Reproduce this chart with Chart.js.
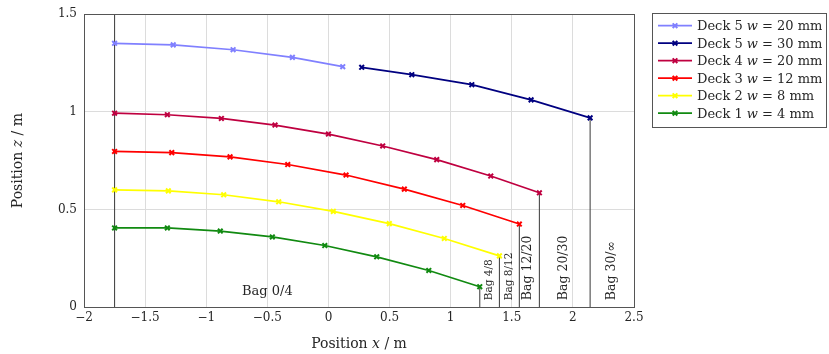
<!DOCTYPE html>
<html><head><meta charset="utf-8">
<script src="https://cdn.jsdelivr.net/npm/chart.js@4.4.0/dist/chart.umd.min.js"></script>
<style>html,body{margin:0;padding:0;background:#fff}#wrap{width:829px;height:354px;position:relative}</style>
</head><body><div id="wrap"><canvas id="c" width="829" height="354"></canvas></div>
<script>
// ---- data ----
const deck5w20X = [-1.75, -1.27, -0.78, -0.295, 0.117];
const deck5w20Z = [1.351, 1.343, 1.318, 1.279, 1.231];
const deck5w30X = [0.272, 0.682, 1.173, 1.658, 2.141];
const deck5w30Z = [1.228, 1.190, 1.139, 1.061, 0.969];
const deck4X = [-1.75, -1.318, -0.876, -0.437, 0.0, 0.444, 0.886, 1.328, 1.726];
const deck4Z = [0.993, 0.985, 0.966, 0.932, 0.886, 0.825, 0.755, 0.671, 0.585];
const deck3X = [-1.75, -1.282, -0.805, -0.333, 0.144, 0.621, 1.099, 1.562];
const deck3Z = [0.797, 0.791, 0.769, 0.730, 0.676, 0.604, 0.520, 0.425];
const deck2X = [-1.75, -1.310, -0.857, -0.407, 0.040, 0.498, 0.948, 1.399];
const deck2Z = [0.600, 0.595, 0.575, 0.539, 0.490, 0.427, 0.351, 0.262];
const deck1X = [-1.75, -1.318, -0.885, -0.459, -0.030, 0.395, 0.821, 1.238];
const deck1Z = [0.405, 0.405, 0.389, 0.359, 0.315, 0.257, 0.187, 0.104];

const seriesNames = ['Deck 5', 'Deck 5', 'Deck 4', 'Deck 3', 'Deck 2', 'Deck 1'];
const seriesWidths = ['20', '30', '20', '12', '8', '4'];

const bagLineX = [-1.75, 1.238, 1.399, 1.562, 1.726, 2.141];
const bagLineTop = [1.5, 0.104, 0.262, 0.425, 0.585, 0.969];

const bagLabels = ['Bag 0/4', 'Bag 4/8', 'Bag 8/12', 'Bag 12/20', 'Bag 20/30', 'Bag 30/\u221E'];
const bagLabelX = [-0.5, 1.314, 1.478, 1.633, 1.928, 2.318];
const bagLabelZ = [0.077, 0.035, 0.035, 0.035, 0.035, 0.035];

const xTicks = [-2, -1.5, -1, -0.5, 0, 0.5, 1, 1.5, 2, 2.5];
const yTicks = [0, 0.5, 1, 1.5];

// ---- styles ----
const colors = ['#8080ff', '#000080', '#bf0040', '#ff0000', '#ffff00', '#118a11'];
const labelSizes = [13, 10.5, 10.5, 12.5, 12.5, 12.5];
const labelRotated = [false, true, true, true, true, true];
const SERIF = '"DejaVu Serif", "Liberation Serif", serif';
const TXT = '#262626';

const series = [[deck5w20X, deck5w20Z], [deck5w30X, deck5w30Z], [deck4X, deck4Z], [deck3X, deck3Z], [deck2X, deck2Z], [deck1X, deck1Z]];

const datasets = series.map((s, i) => ({
  label: seriesNames[i] + ' w = ' + seriesWidths[i] + ' mm',
  data: s[0].map((x, k) => ({x: x, y: s[1][k]})),
  borderColor: colors[i], backgroundColor: colors[i],
  pointBorderColor: colors[i],
  borderWidth: 1.7, pointStyle: 'crossRot', pointRadius: 3.3, pointBorderWidth: 2,
  tension: 0, order: 1
}));
bagLineX.forEach((x, i) => {
  datasets.push({
    label: 'bagline' + i,
    data: [{x: x, y: 0}, {x: x, y: bagLineTop[i]}],
    borderColor: '#4a4a4a', borderWidth: 1.1, pointRadius: 0, order: 5
  });
});

function drawRich(ctx, parts, size, x, y, align) {
  const fonts = parts.map(p => (p.i ? 'italic ' : '') + size + 'px ' + SERIF);
  let total = 0;
  const widths = parts.map((p, k) => { ctx.font = fonts[k]; const w = ctx.measureText(p.t).width; total += w; return w; });
  let cx = align === 'center' ? x - total / 2 : x;
  ctx.textBaseline = 'middle'; ctx.textAlign = 'left';
  parts.forEach((p, k) => { ctx.font = fonts[k]; ctx.fillText(p.t, cx, y); cx += widths[k]; });
}

function drawCross(ctx, x, y, r, color) {
  ctx.save(); ctx.strokeStyle = color; ctx.lineWidth = 2;
  ctx.beginPath();
  ctx.moveTo(x - r * 0.7071, y - r * 0.7071); ctx.lineTo(x + r * 0.7071, y + r * 0.7071);
  ctx.moveTo(x + r * 0.7071, y - r * 0.7071); ctx.lineTo(x - r * 0.7071, y + r * 0.7071);
  ctx.stroke(); ctx.restore();
}

const decor = {
  id: 'decor',
  afterDatasetsDraw(chart) {
    const ctx = chart.ctx, xs = chart.scales.x, ys = chart.scales.y, a = chart.chartArea;
    ctx.save();
    // frame
    ctx.strokeStyle = '#555'; ctx.lineWidth = 1;
    ctx.strokeRect(Math.round(a.left) + 0.5, Math.round(a.top) + 0.5, Math.round(a.right - a.left), Math.round(a.bottom - a.top));
    // bag labels
    ctx.fillStyle = TXT;
    bagLabels.forEach((t, i) => {
      const px = xs.getPixelForValue(bagLabelX[i]);
      const py = ys.getPixelForValue(bagLabelZ[i]);
      ctx.font = labelSizes[i] + 'px ' + SERIF;
      if (labelRotated[i]) {
        ctx.save(); ctx.translate(px, py); ctx.rotate(-Math.PI / 2);
        ctx.textAlign = 'left'; ctx.textBaseline = 'middle';
        ctx.fillText(t, 0, 0); ctx.restore();
      } else {
        ctx.textAlign = 'center'; ctx.textBaseline = 'middle';
        ctx.fillText(t, px, py);
      }
    });
    // axis titles
    drawRich(ctx, [{t: 'Position '}, {t: 'x', i: true}, {t: ' / m'}], 14, (a.left + a.right) / 2, 344, 'center');
    ctx.save(); ctx.translate(18, (a.top + a.bottom) / 2); ctx.rotate(-Math.PI / 2);
    drawRich(ctx, [{t: 'Position '}, {t: 'z', i: true}, {t: ' / m'}], 14, 0, 0, 'center');
    ctx.restore();
    // legend
    const lx = 652, ly = 13, lw = 174, lh = 114;
    ctx.fillStyle = '#fff'; ctx.fillRect(lx, ly, lw, lh);
    ctx.strokeStyle = '#555'; ctx.lineWidth = 1; ctx.strokeRect(lx + 0.5, ly + 0.5, lw, lh);
    seriesNames.forEach((n, i) => {
      const y = ly + 12.7 + i * 17.5;
      ctx.strokeStyle = colors[i]; ctx.lineWidth = 1.7;
      ctx.beginPath(); ctx.moveTo(lx + 6, y); ctx.lineTo(lx + 40, y); ctx.stroke();
      drawCross(ctx, lx + 23, y, 3.3, colors[i]);
      ctx.fillStyle = TXT;
      drawRich(ctx, [{t: n + ' '}, {t: 'w', i: true}, {t: ' = ' + seriesWidths[i] + ' mm'}], 13, lx + 45, y + 1, 'left');
    });
    ctx.restore();
  }
};

const fmt = v => { const n = Number(Number(v).toFixed(2)); return n < 0 ? '\u2212' + String(-n) : String(n); };

new Chart(document.getElementById('c'), {
  type: 'line',
  data: {datasets: datasets},
  plugins: [decor],
  options: {
    responsive: false, animation: false, devicePixelRatio: 1,
    layout: {padding: {left: 0, top: 13, right: 195, bottom: 0}},
    plugins: {legend: {display: false}, tooltip: {enabled: false}},
    scales: {
      x: {
        type: 'linear', min: xTicks[0], max: xTicks[xTicks.length - 1],
        afterBuildTicks: s => { s.ticks = xTicks.map(v => ({value: v})); },
        afterFit: s => { s.height = 47; },
        ticks: {callback: fmt, color: TXT, font: {family: SERIF, size: 12}, padding: 4, maxRotation: 0, autoSkip: false},
        grid: {color: '#dcdcdc', lineWidth: 1, drawTicks: false},
        border: {display: false}
      },
      y: {
        type: 'linear', min: yTicks[0], max: yTicks[yTicks.length - 1],
        afterBuildTicks: s => { s.ticks = yTicks.map(v => ({value: v})); },
        afterFit: s => { s.width = 84; },
        ticks: {callback: fmt, color: TXT, font: {family: SERIF, size: 12}, padding: 7, autoSkip: false},
        grid: {color: '#dcdcdc', lineWidth: 1, drawTicks: false},
        border: {display: false}
      }
    }
  }
});
</script>
</body></html>
